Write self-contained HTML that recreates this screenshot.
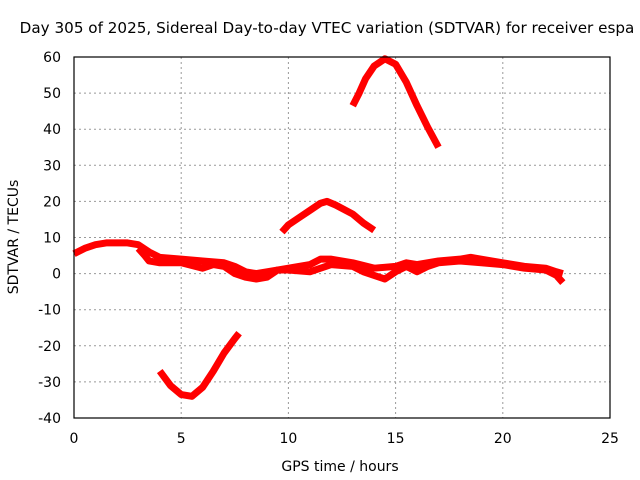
<!DOCTYPE html>
<html><head><meta charset="utf-8"><style>
body{margin:0;background:#fff}
svg{display:block;font-family:"DejaVu Sans","Liberation Sans",sans-serif}
</style></head><body>
<svg id="chart" width="640" height="480">
<text x="327" y="33" text-anchor="middle" font-size="15.2">Day 305 of 2025, Sidereal Day-to-day VTEC variation (SDTVAR) for receiver espa</text>
<text x="340" y="471" text-anchor="middle" font-size="14">GPS time / hours</text>
<text transform="translate(18,237) rotate(-90)" text-anchor="middle" font-size="14">SDTVAR / TECUs</text>
<g id="grid"></g><g id="marks"></g>
<rect x="74" y="57" width="536" height="361" fill="none" stroke="#000" stroke-width="1.2"/>
</svg>
<script>
const xTicks=[0,5,10,15,20,25];
const yTicks=[-40,-30,-20,-10,0,10,20,30,40,50,60];
const bandUpper=[[0,5.5],[0.5,7],[1,8],[1.5,8.5],[2,8.5],[2.5,8.5],[3,8],[3.5,6],[4,4.5],[5,4],[6,3.5],[7,3],[7.5,2],[8,0.5],[8.5,0],[9,0.5],[10,1.5],[11,2.5],[11.5,4],[12,4],[13,3],[14,1.5],[15,2],[15.5,3],[16,2.5],[17,3.5],[18,4],[18.5,4.5],[19,4],[20,3],[21,2],[22,1.5],[22.5,0.5],[22.8,0]];
const bandLower=[[3,7],[3.3,5],[3.5,3.5],[4,3],[5,3],[6,1.5],[6.5,2.5],[7,2],[7.5,0],[8,-1],[8.5,-1.5],[9,-1],[9.5,1],[10,1],[11,0.5],[12,2.5],[13,2],[13.5,0.5],[14,-0.5],[14.5,-1.5],[15,0.5],[15.5,2],[16,0.5],[16.5,2],[17,3],[18,3.5],[19,3],[20,2.5],[21,1.5],[22,1],[22.5,-0.5],[22.8,-2.5]];
const arcLow=[[4,-27],[4.5,-31],[5,-33.5],[5.5,-34],[6,-31.5],[6.5,-27],[7,-22],[7.5,-18],[7.7,-16.5]];
const arcMid=[[9.7,11.5],[10,13.5],[10.5,15.5],[11,17.5],[11.5,19.5],[11.8,20],[12.2,19],[13,16.5],[13.5,14],[14,12]];
const arcHigh=[[13,46.5],[13.3,50],[13.6,54],[14,57.5],[14.5,59.5],[15,58],[15.5,53],[16,46.5],[16.5,40.5],[17,35]];
const X=v=>74+v*536/25, Y=v=>57+(60-v)*361/100;
const NS="http://www.w3.org/2000/svg";
const grid=document.getElementById('grid'), marks=document.getElementById('marks');
function mk(tag,attrs,parent){const e=document.createElementNS(NS,tag);for(const k in attrs)e.setAttribute(k,attrs[k]);parent.appendChild(e);return e;}
xTicks.forEach(t=>{
 if(t>0&&t<25){const g=mk('line',{x1:X(t),x2:X(t),y1:57,y2:418,stroke:'#999','stroke-dasharray':'2,3'},grid);
 
 }
 const l=mk('text',{x:X(t),y:443,'text-anchor':'middle','font-size':14},grid);l.textContent=t;
 
 
});
yTicks.forEach(t=>{
 if(t>-40&&t<60){const g=mk('line',{x1:74,x2:610,y1:Y(t),y2:Y(t),stroke:'#999','stroke-dasharray':'2,3'},grid);
 
 }
 const l=mk('text',{x:61,y:Y(t)+5,'text-anchor':'end','font-size':14},grid);l.textContent=t;
 
 
});
const series=[['series-band-upper',bandUpper],['series-band-lower',bandLower],['series-arc-low',arcLow],['series-arc-mid',arcMid],['series-arc-high',arcHigh]];
series.forEach(([n,d])=>{
 const p=mk('polyline',{points:d.map(q=>X(q[0])+','+Y(q[1])).join(' '),fill:'none',stroke:'#f00','stroke-width':7,'stroke-linejoin':'round','stroke-linecap':'butt'},marks);
 
 
});
</script>
</body></html>
